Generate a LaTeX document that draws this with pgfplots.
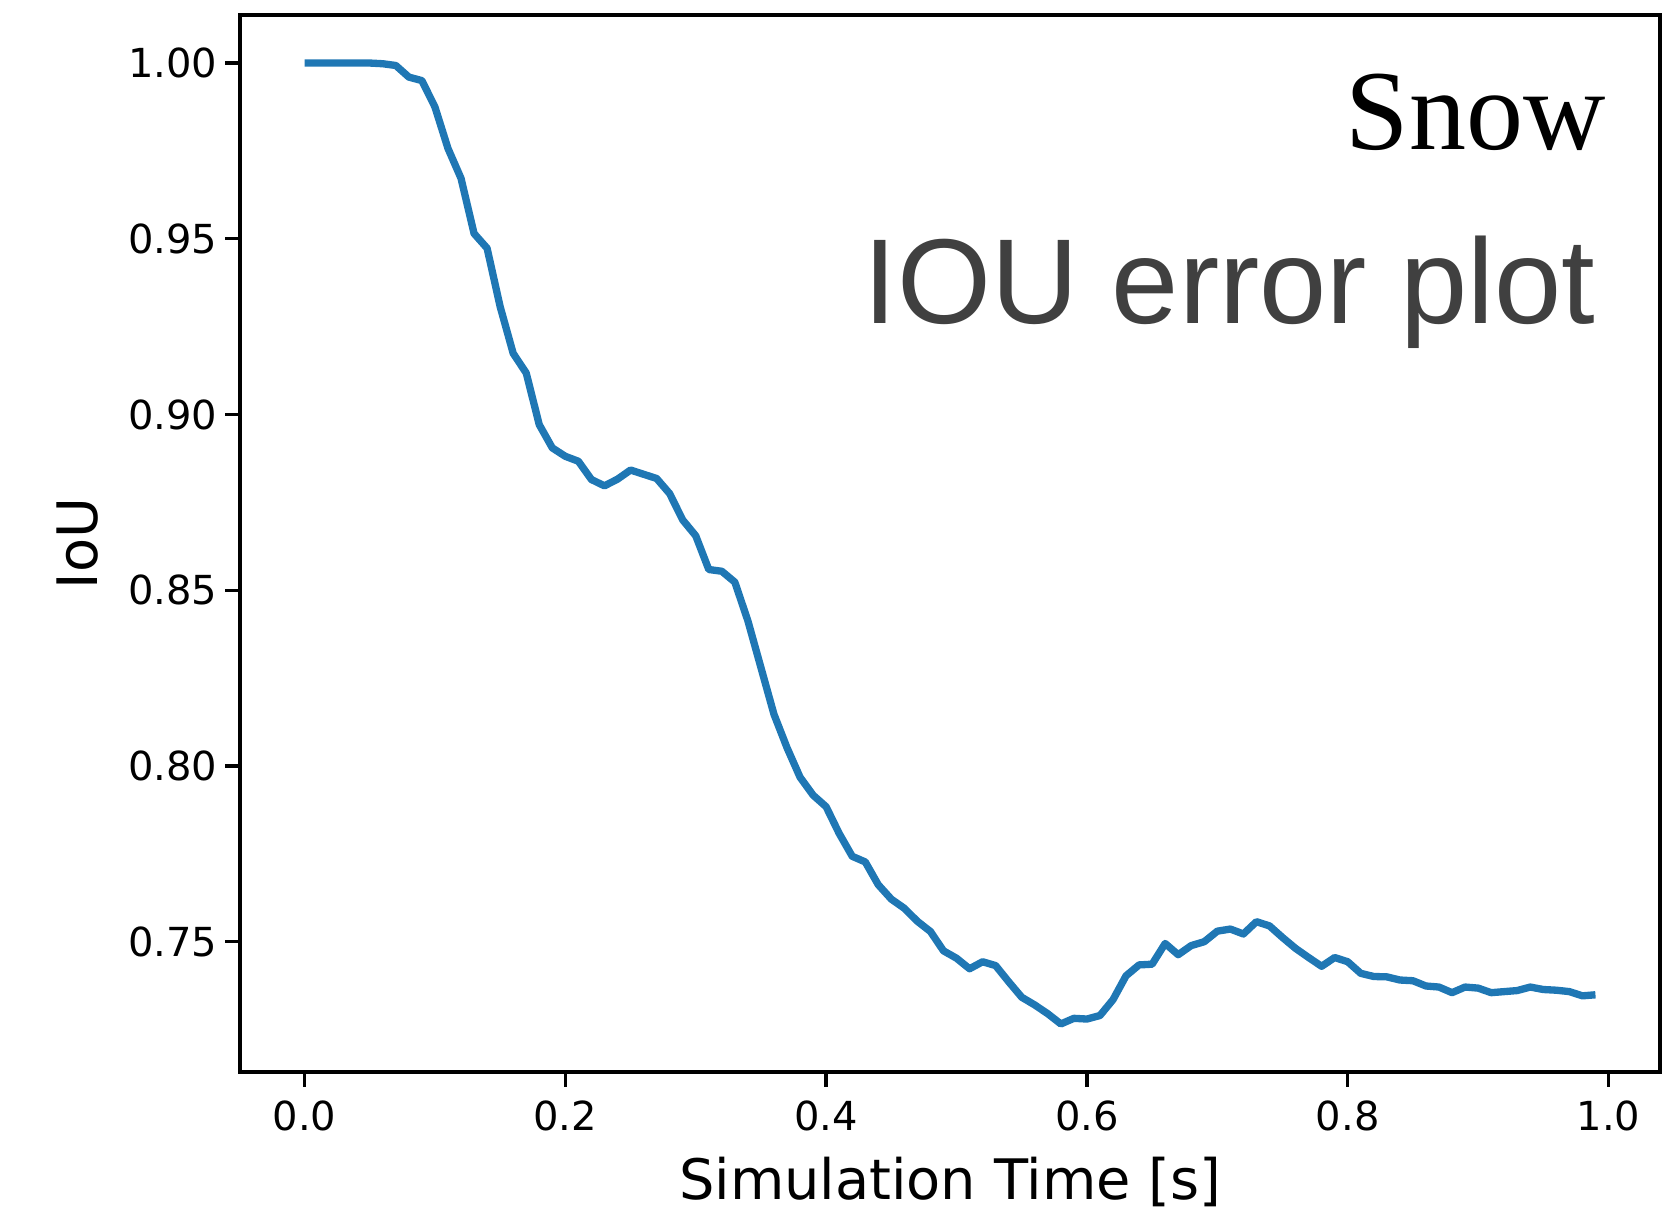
\documentclass[border=0pt]{standalone}
\usepackage{pgfplots}
\pgfplotsset{compat=1.18}
\usepackage{pgfplotstable}
\usepackage{fontspec}
\setmainfont{DejaVu Sans}
\newfontfamily\snowfont{Liberation Serif}
\newfontfamily\ioufont{Liberation Sans}
\definecolor{mplblue}{HTML}{1F77B4}
\definecolor{ioug}{HTML}{404040}
\pgfplotstableread{
t iou
0.00 1.0000
0.01 1.0000
0.02 1.0000
0.03 1.0000
0.04 1.0000
0.05 1.0000
0.06 0.9998
0.07 0.9993
0.08 0.9960
0.09 0.9950
0.10 0.9875
0.11 0.9757
0.12 0.9672
0.13 0.9515
0.14 0.9473
0.15 0.9307
0.16 0.9174
0.17 0.9118
0.18 0.8971
0.19 0.8905
0.20 0.8881
0.21 0.8867
0.22 0.8815
0.23 0.8797
0.24 0.8816
0.25 0.8842
0.26 0.8830
0.27 0.8818
0.28 0.8775
0.29 0.8700
0.30 0.8655
0.31 0.8559
0.32 0.8554
0.33 0.8523
0.34 0.8413
0.35 0.8280
0.36 0.8147
0.37 0.8052
0.38 0.7968
0.39 0.7917
0.40 0.7884
0.41 0.7808
0.42 0.7743
0.43 0.7727
0.44 0.7662
0.45 0.7621
0.46 0.7595
0.47 0.7558
0.48 0.7529
0.49 0.7474
0.50 0.7453
0.51 0.7423
0.52 0.7443
0.53 0.7432
0.54 0.7386
0.55 0.7342
0.56 0.7320
0.57 0.7295
0.58 0.7266
0.59 0.7282
0.60 0.7280
0.61 0.7290
0.62 0.7335
0.63 0.7403
0.64 0.7434
0.65 0.7436
0.66 0.7495
0.67 0.7463
0.68 0.7489
0.69 0.7500
0.70 0.7530
0.71 0.7536
0.72 0.7522
0.73 0.7557
0.74 0.7545
0.75 0.7512
0.76 0.7481
0.77 0.7455
0.78 0.7430
0.79 0.7455
0.80 0.7443
0.81 0.7410
0.82 0.7401
0.83 0.7400
0.84 0.7391
0.85 0.7389
0.86 0.7374
0.87 0.7371
0.88 0.7355
0.89 0.7371
0.90 0.7368
0.91 0.7355
0.92 0.7358
0.93 0.7361
0.94 0.7371
0.95 0.7364
0.96 0.7362
0.97 0.7358
0.98 0.7346
0.99 0.7349
}\ioudata
\begin{document}
\begin{tikzpicture}
\begin{axis}[
  name=ax, at={(0,0)}, anchor=south west,
  scale only axis, width=355bp, height=264.25bp,
  xmin=-0.0495, xmax=1.0395, ymin=0.71293, ymax=1.01367,
  xtick={0,0.2,0.4,0.6,0.8,1.0},
  ytick={0.75,0.80,0.85,0.90,0.95,1.00},
  tick align=outside, major tick length=3.65bp,
  xtick pos=lower, ytick pos=left,
  axis line style={line width=0.83bp},
  every tick/.style={black, line width=0.83bp},
  /pgf/number format/assume math mode=true,
  ticklabel style={font=\fontsize{10.0bp}{12bp}\selectfont},
  yticklabel style={xshift=1.5bp},
  xticklabel={\pgfmathprintnumber[fixed,fixed zerofill,precision=1]{\tick}},
  yticklabel={\pgfmathprintnumber[fixed,fixed zerofill,precision=2]{\tick}},
  xlabel={Simulation Time [s]}, ylabel={IoU},
  every axis x label/.style={at={(axis description cs:0.5,-0.12016)}, anchor=base, font=\fontsize{13.95bp}{17bp}\selectfont},
  every axis y label/.style={at={(axis description cs:-0.11408,0.5)}, anchor=center, rotate=90, font=\fontsize{13.95bp}{17bp}\selectfont},
]
\addplot[mplblue, line width=1.83bp, line join=round] table[x=t, y=iou] {\ioudata};
\node[anchor=base east, inner sep=0pt, font=\snowfont\fontsize{28.5bp}{34bp}\selectfont] at (rel axis cs:0.9622,0.8723) {Snow};
\node[anchor=base east, inner sep=0pt, text=ioug, font=\ioufont\fontsize{30.2bp}{36bp}\selectfont] at (rel axis cs:0.955,0.7077) {IOU error plot};
\end{axis}
\pgfresetboundingbox
\path[use as bounding box] (-60bp,-36.25bp) rectangle (359bp,268bp);
\end{tikzpicture}
\end{document}
